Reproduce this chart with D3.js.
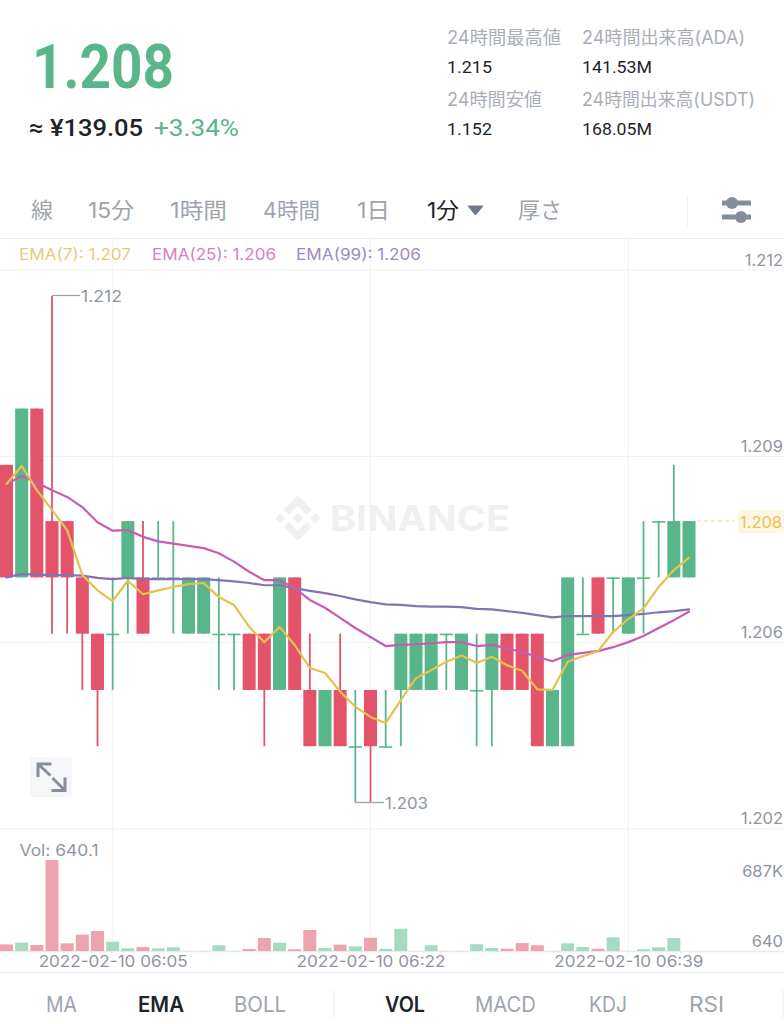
<!DOCTYPE html>
<html><head><meta charset="utf-8">
<style>html,body{margin:0;padding:0;background:#fff}svg{display:block}</style>
<script src="https://cdnjs.cloudflare.com/ajax/libs/d3/7.8.5/d3.min.js"></script>
</head><body>
<svg id="c" width="784" height="1024"></svg>
<script>
// ---- data ----
const opens = [1.209,1.207,1.210,1.208,1.208,1.207,1.206,1.206,1.207,1.207,1.207,1.207,1.206,1.206,1.206,1.206,1.206,1.206,1.205,1.207,1.205,1.204,1.205,1.204,1.205,1.204,1.205,1.205,1.205,1.206,1.205,1.205,1.205,1.206,1.206,1.206,1.204,1.204,1.206,1.207,1.207,1.206,1.207,1.208,1.207,1.207];
const closes = [1.207,1.210,1.207,1.207,1.207,1.206,1.205,1.206,1.208,1.206,1.207,1.207,1.207,1.207,1.206,1.206,1.205,1.205,1.207,1.205,1.204,1.205,1.204,1.204,1.204,1.204,1.206,1.206,1.206,1.206,1.206,1.205,1.206,1.205,1.205,1.204,1.205,1.207,1.206,1.206,1.207,1.207,1.207,1.208,1.208,1.208];
const highs = [1.209,1.210,1.210,1.212,1.208,1.207,1.206,1.207,1.208,1.208,1.208,1.208,1.207,1.207,1.207,1.206,1.206,1.206,1.207,1.207,1.206,1.205,1.206,1.205,1.205,1.205,1.206,1.206,1.206,1.206,1.206,1.206,1.206,1.206,1.206,1.206,1.205,1.207,1.207,1.207,1.207,1.207,1.208,1.208,1.209,1.208];
const lows = [1.207,1.207,1.207,1.206,1.206,1.205,1.204,1.205,1.206,1.206,1.207,1.206,1.206,1.206,1.205,1.205,1.205,1.204,1.205,1.205,1.204,1.204,1.204,1.203,1.203,1.204,1.204,1.205,1.205,1.205,1.205,1.204,1.204,1.205,1.205,1.204,1.204,1.204,1.206,1.206,1.206,1.206,1.206,1.207,1.207,1.207];
const ema7 = [1.20866,1.20898,1.20855,1.20820,1.20784,1.20704,1.20677,1.20658,1.20694,1.20670,1.20677,1.20683,1.20688,1.20690,1.20665,1.20651,1.20612,1.20585,1.20612,1.20580,1.20539,1.20530,1.20497,1.20470,1.20452,1.20441,1.20482,1.20521,1.20535,1.20550,1.20561,1.20548,1.20559,1.20544,1.20534,1.20501,1.20500,1.20550,1.20560,1.20569,1.20603,1.20626,1.20645,1.20683,1.20713,1.20735];
const ema25 = [1.20866,1.20880,1.20868,1.20855,1.20843,1.20825,1.20798,1.20783,1.20784,1.20772,1.20764,1.20760,1.20756,1.20752,1.20743,1.20728,1.20710,1.20695,1.20695,1.20681,1.20660,1.20646,1.20628,1.20610,1.20594,1.20578,1.20580,1.20581,1.20583,1.20585,1.20585,1.20578,1.20580,1.20574,1.20567,1.20559,1.20551,1.20562,1.20566,1.20569,1.20576,1.20585,1.20596,1.20610,1.20624,1.20639];
const ema99 = [1.20700,1.20706,1.20705,1.20704,1.20704,1.20703,1.20699,1.20697,1.20699,1.20697,1.20697,1.20697,1.20697,1.20697,1.20695,1.20693,1.20690,1.20686,1.20686,1.20681,1.20676,1.20672,1.20667,1.20661,1.20656,1.20652,1.20651,1.20649,1.20648,1.20648,1.20647,1.20644,1.20643,1.20640,1.20637,1.20633,1.20629,1.20631,1.20631,1.20631,1.20631,1.20633,1.20635,1.20638,1.20640,1.20643];
const volumes = [50,63,45,687,58,123,151,70,20,30,20,28,1,1,43,1,15,98,63,13,159,23,48,35,100,15,168,1,43,1,1,51,23,17,60,43,1,58,30,17,103,1,13,28,98,0.64];
const priceTicks = [1.21246,1.20915,1.20584,1.20253];
const priceTickLabels = ["1.212","1.209","1.206","1.202"];
const volTicks = [687,0.64];
const volTickLabels = ["687K","640"];
const timeIdx = [7,24,41];
const timeLabels = ["2022-02-10 06:05","2022-02-10 06:22","2022-02-10 06:39"];
const periodTabs = ["線","15分","1時間","4時間","1日","1分","厚さ"];
const indicatorTabs = ["MA","EMA","BOLL","VOL","MACD","KDJ","RSI"];
const emaLegend = ["EMA(7): 1.207","EMA(25): 1.206","EMA(99): 1.206"];
const statLabels = ["24時間最高値","24時間安値","24時間出来高(ADA)","24時間出来高(USDT)"];
const statValues = ["1.215","1.152","141.53M","168.05M"];

// ---- style & layout ----
const GREEN="#58b68a", RED="#e3536a", VGREEN="#a6dac3", VRED="#eea4af";
const YEL="#e6c14f", MAG="#c95cb0", PUR="#8472b6";
const GREY="#8f959f", LGREY="#a9aeb6", DARK="#1e2329", GRID="#f1f2f4", FONT="Inter,'Noto Sans CJK JP',sans-serif";
const svg=d3.select("#c");
const x=d3.scaleLinear().domain([0,45]).range([6.5,689]);
const y=d3.scaleLinear().domain([1.203,1.212]).range([802.5,296]);
const yv=d3.scaleLinear().domain([0,687]).range([951,860]);
const BW=13;

function t(left,cy,s,o){
  const size=o.size||16;
  const e=svg.append("text").attr("x",left).attr("y",cy+(o.base||0.36)*size).text(s)
    .attr("font-family",o.font||FONT).attr("font-size",size).attr("fill",o.color||GREY)
    .attr("font-weight",o.weight||400);
  if(o.len) e.attr("textLength",o.len).attr("lengthAdjust","spacingAndGlyphs");
  return e;
}
const line=(x1,y1,x2,y2,c,w)=>svg.append("line").attr("x1",x1).attr("y1",y1).attr("x2",x2).attr("y2",y2).attr("stroke",c).attr("stroke-width",w||1);

// header
t(32,66,"1.208",{size:62,color:GREEN,weight:700,font:"Roboto",len:142});
t(29,127,"≈ ¥139.05",{size:24,color:DARK,weight:500,font:"Roboto",len:114});
t(154,127,"+3.34%",{size:24,color:GREEN,weight:400,font:"Roboto",len:85});
const statX=[447,447,582,582],statY=[38,100,38,100],statW=[114,95,163,173],valW=[45,45,70,70];
statLabels.forEach((s,i)=>{
  t(statX[i],statY[i],s,{size:18,color:LGREY,len:statW[i],base:.35});
  t(statX[i],statY[i]+29,statValues[i],{size:17,color:DARK,weight:400,font:"Roboto",len:valW[i]});
});
// period tabs
const tabX=[31,88,170,263,357,427,518],tabW=[22,46,57,57,33,32,44];
periodTabs.forEach((s,i)=>t(tabX[i],210,s,{size:22,color:i==5?DARK:"#9ea4ac",len:tabW[i],base:.35}));
svg.append("path").attr("d","M468 206H483L475.5 215Z").attr("fill","#707a8a").attr("stroke","#707a8a").attr("stroke-linejoin","round");
line(687.5,195,687.5,226,"#eef0f2",1);
[[722,751,203,732],[722,751,217,741]].forEach(([a,b,yy,cx])=>{
  line(a,yy,b,yy,"#858d9b",5);
  svg.append("circle").attr("cx",cx).attr("cy",yy).attr("r",6).attr("fill","#858d9b");
});

// frame lines
line(0,238.5,784,238.5,"#eceef0",1);
svg.append("g").selectAll("line").data(priceTicks).join("line")
  .attr("x1",0).attr("x2",784).attr("y1",d=>y(d)).attr("y2",d=>y(d)).attr("stroke","#eff0f2");
svg.append("g").selectAll("line").data(timeIdx).join("line")
  .attr("x1",d=>x(d)).attr("x2",d=>x(d)).attr("y1",238).attr("y2",951).attr("stroke",GRID);
line(0,951.5,784,951.5,"#e9ebee",1.5);
line(0,972.5,784,972.5,"#eaecef",1);

// watermark
svg.append("path").attr("transform","translate(275,495.5) scale(.36)")
  .attr("d","M38.73 53.2l24.59-24.58 24.6 24.6 14.3-14.31L63.32 0 24.42 38.9zM0 63.31L14.3 49l14.31 14.31-14.31 14.3zM38.73 73.41L63.32 98l24.6-24.6 14.31 14.29-38.9 38.91-38.91-38.88-.02-.02zM98 63.31l14.3-14.31 14.31 14.3-14.31 14.32zM77.83 63.3L63.32 48.78 52.59 59.51l-1.24 1.23-2.54 2.54 14.51 14.5 14.51-14.47z")
  .attr("fill","#eff0f2");
t(330,518,"BINANCE",{size:36,color:"#eff0f2",weight:700,len:180});

// legend
const legX=[19,152,296],legW=[112,124,125],legC=["#e8cb7a","#d680c4","#9d8ac0"];
emaLegend.forEach((s,i)=>t(legX[i],254,s,{size:16,color:legC[i],len:legW[i]}));

// price axis
const axisP=d3.axisRight(y).tickValues(priceTicks).tickFormat((d,i)=>priceTickLabels[i]).tickSize(0).tickPadding(0);
const gp=svg.append("g").attr("transform","translate(783,0)").call(axisP);
gp.select(".domain").remove();
gp.selectAll("text").attr("text-anchor","end").attr("dy","-5").attr("font-family",FONT).attr("font-size",16.5).attr("fill",GREY);

// volume axis
const axisV=d3.axisRight(yv).tickValues(volTicks).tickFormat((d,i)=>volTickLabels[i]).tickSize(0).tickPadding(0);
const gv=svg.append("g").attr("transform","translate(783,0)").call(axisV);
gv.select(".domain").remove();
gv.selectAll("text").attr("text-anchor","end").attr("dy",(d,i)=>i==0?"16.5":"-4").attr("font-family",FONT).attr("font-size",16.5).attr("fill",GREY);

// time axis
const axisT=d3.axisBottom(x).tickValues(timeIdx).tickFormat((d,i)=>timeLabels[i]).tickSize(0).tickPadding(0);
const gt=svg.append("g").attr("transform","translate(0,956)").call(axisT);
gt.select(".domain").remove();
gt.selectAll("text").attr("font-family",FONT).attr("font-size",16).attr("fill",GREY).attr("textLength",149).attr("lengthAdjust","spacingAndGlyphs");

// candles
const idx=d3.range(opens.length);
const col=i=>closes[i]>=opens[i]?GREEN:RED;
svg.append("g").selectAll("line").data(idx).join("line")
  .attr("x1",x).attr("x2",x).attr("y1",i=>y(highs[i])).attr("y2",i=>y(lows[i])).attr("stroke",col).attr("stroke-width",1.8);
svg.append("g").selectAll("rect").data(idx).join("rect")
  .attr("x",i=>x(i)-BW/2).attr("width",BW)
  .attr("y",i=>y(Math.max(opens[i],closes[i])))
  .attr("height",i=>Math.max(1.6,Math.abs(y(opens[i])-y(closes[i]))))
  .attr("fill",col);

// extreme annotations
line(x(3),295.5,80,295.5,"#9aa0a8",1.2);
t(81,296,"1.212",{size:16,color:GREY,len:41});
line(x(23),802.5,384,802.5,"#a6abb3",1.5);
t(385,803,"1.203",{size:16,color:GREY,len:43});

// EMA lines
const gen=d3.line().x((d,i)=>x(i)).y(d=>y(d));
[[ema99,PUR],[ema25,MAG],[ema7,YEL]].forEach(([a,c])=>
  svg.append("path").datum(a).attr("d",gen).attr("fill","none").attr("stroke",c).attr("stroke-width",2.2).attr("stroke-linejoin","round").attr("stroke-linecap","round"));

// last price tag
line(697,521,735,521,"#f1dca0",1.2).attr("stroke-dasharray","4 3");
svg.append("rect").attr("x",738).attr("y",510).attr("width",46).attr("height",23).attr("rx",3).attr("fill","#fdf6e4");
t(740,522,"1.208",{size:16,color:"#e8c254",len:42});

// expand button
svg.append("rect").attr("x",30).attr("y",757).attr("width",42).attr("height",40).attr("rx",3).attr("fill","#f5f6f7");
svg.append("path").attr("d","M51.5 764H38V777M38.5 764.5L50.5 775.5M51.5 790.5H65V777.5M64.5 790L52.5 778")
  .attr("fill","none").attr("stroke","#868e9c").attr("stroke-width",3);

// volume bars
t(19.5,850,"Vol: 640.1",{size:16,color:GREY,len:79});
svg.append("g").selectAll("rect").data(idx).join("rect")
  .attr("x",i=>x(i)-BW/2).attr("width",BW)
  .attr("y",i=>yv(volumes[i])).attr("height",i=>yv(0)-yv(volumes[i]))
  .attr("fill",i=>closes[i]>=opens[i]?VGREEN:VRED);

// indicator tabs
const indX=[46,138,234,385,475,589,689],indW=[31,46,52,40,61,38,35];
indicatorTabs.forEach((s,i)=>t(indX[i],1004,s,{size:21,color:(i==1||i==3)?DARK:"#9ea4ac",weight:(i==1||i==3)?600:400,len:indW[i]}));
line(334,990,334,1018,"#eceef0",1);
line(783,990,783,1018,"#eceef0",1);
</script>
</body></html>
